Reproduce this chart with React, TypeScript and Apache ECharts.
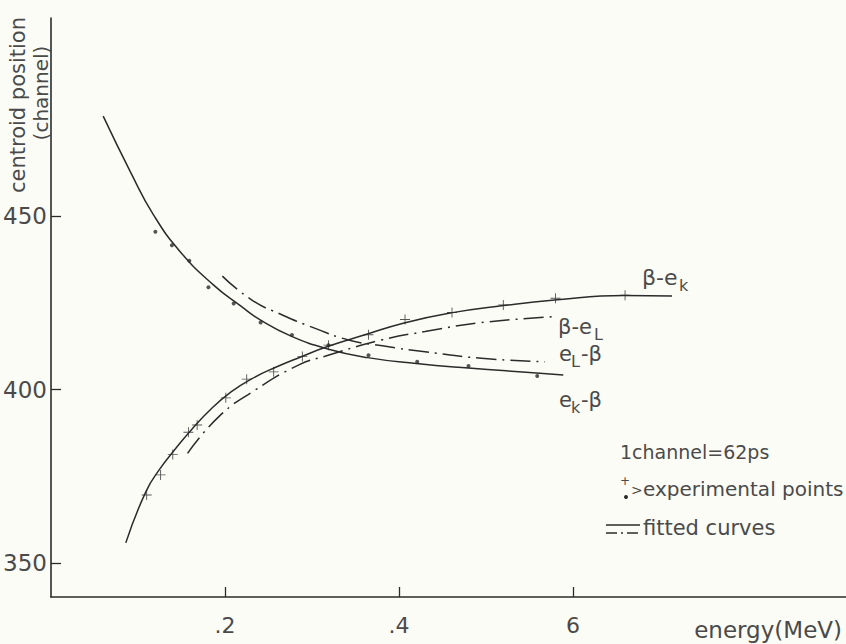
import React, { useEffect, useRef } from "react";
import * as echarts from "echarts";

// ---- data ----
const xTickValues = [0.2, 0.4, 0.6];
const xTickLabels = [".2", ".4", "6"];
const yTickValues = [350, 400, 450];

// e_k - beta : solid, decreasing fitted curve
const ekBetaCurve = [
  [0.06, 478.8], [0.092, 462.4], [0.118, 450.3], [0.149, 439.6], [0.187, 430.1],
  [0.218, 424.1], [0.241, 420.0], [0.276, 415.4], [0.318, 411.7], [0.364, 409.2],
  [0.42, 407.5], [0.48, 406.2], [0.558, 404.8], [0.589, 404.2],
];
// e_k - beta : experimental points (dots)
const ekBetaPoints = [
  [0.12, 445.5], [0.139, 441.6], [0.159, 437.1], [0.181, 429.5], [0.21, 424.8],
  [0.241, 419.3], [0.277, 415.7], [0.319, 412.8], [0.365, 409.9], [0.421, 408.0],
  [0.48, 406.8], [0.559, 403.9],
];
// beta - e_k : solid, increasing fitted curve
const betaEkCurve = [
  [0.086, 355.8], [0.109, 370.5], [0.126, 377.4], [0.144, 383.2], [0.161, 388.3],
  [0.184, 394.4], [0.207, 399.3], [0.23, 403.0], [0.259, 406.5], [0.287, 409.4],
  [0.318, 412.4], [0.36, 415.7], [0.406, 419.2], [0.46, 422.1], [0.52, 424.2],
  [0.579, 425.8], [0.659, 427.1], [0.714, 427.0],
];
// beta - e_k : experimental points (crosses)
const betaEkPoints = [
  [0.11, 369.6], [0.126, 375.4], [0.14, 381.3], [0.158, 387.7], [0.168, 389.8],
  [0.201, 397.6], [0.225, 403.0], [0.256, 405.1], [0.289, 409.5], [0.319, 412.8],
  [0.365, 415.8], [0.407, 420.2], [0.461, 422.2], [0.52, 424.4], [0.58, 426.3],
  [0.66, 427.2],
];
// beta - e_L : dash-dot fitted curve
const betaElCurve = [
  [0.157, 381.6], [0.193, 392.2], [0.235, 399.9], [0.285, 407.1], [0.315, 409.6],
  [0.38, 414.3], [0.43, 416.7], [0.495, 419.3], [0.579, 421.0],
];
// e_L - beta : dash-dot fitted curve
const elBetaCurve = [
  [0.197, 432.7], [0.231, 425.8], [0.266, 421.5], [0.303, 417.7], [0.342, 414.3],
  [0.381, 412.6], [0.43, 410.9], [0.495, 409.0], [0.568, 408.0],
];

const INK = "#2b2b2b";
const TEXT = "#4a4a4a";
const FONT = "DejaVu Sans";
const PLUS =
  "path://M-0.09,-1L0.09,-1L0.09,-0.09L1,-0.09L1,0.09L0.09,0.09L0.09,1L-0.09,1L-0.09,0.09L-1,0.09L-1,-0.09L-0.09,-0.09Z";

function txt(text: string, x: number, y: number, size: number, extra: any = {}) {
  return {
    type: "text",
    x,
    y,
    silent: true,
    style: {
      text,
      fill: TEXT,
      fontSize: size,
      fontFamily: FONT,
      align: "left",
      verticalAlign: "top",
      ...extra,
    },
  };
}

export default function App() {
  const ref = useRef<HTMLDivElement>(null);
  useEffect(() => {
    if (!ref.current) return;
    const chart = echarts.init(ref.current, null, { renderer: "svg" });
    const lineBase = { type: "line", symbol: "none", smooth: true, silent: true, z: 3 };
    const option: any = {
      animation: false,
      backgroundColor: "#fcfcf7",
      grid: { left: 51, right: 0, top: 18, bottom: 47 },
      xAxis: {
        type: "value",
        min: 0,
        max: 0.914,
        axisLine: { lineStyle: { color: INK, width: 1.6 } },
        axisTick: {
          inside: true,
          length: 10,
          customValues: xTickValues,
          lineStyle: { color: INK, width: 1.3 },
        },
        axisLabel: {
          customValues: xTickValues,
          formatter: (v: number) => {
            const i = xTickValues.findIndex((t) => Math.abs(t - v) < 1e-6);
            return i >= 0 ? xTickLabels[i] : "";
          },
          margin: 17,
          fontSize: 22,
          color: TEXT,
          fontFamily: FONT,
        },
        splitLine: { show: false },
      },
      yAxis: {
        type: "value",
        min: 340.2,
        max: 507.1,
        axisLine: { show: true, lineStyle: { color: INK, width: 1.6 } },
        axisTick: {
          show: true,
          inside: true,
          length: 10,
          customValues: yTickValues,
          lineStyle: { color: INK, width: 1.3 },
        },
        axisLabel: {
          customValues: yTickValues,
          margin: 4,
          fontSize: 23,
          color: TEXT,
          fontFamily: FONT,
        },
        splitLine: { show: false },
      },
      series: [
        { ...lineBase, name: "ek-beta", data: ekBetaCurve, lineStyle: { color: INK, width: 1.5 } },
        { ...lineBase, name: "beta-ek", data: betaEkCurve, lineStyle: { color: INK, width: 1.5 } },
        {
          ...lineBase,
          name: "beta-eL",
          data: betaElCurve,
          lineStyle: { color: INK, width: 1.5, type: [20, 6, 2, 6] },
        },
        {
          ...lineBase,
          name: "eL-beta",
          data: elBetaCurve,
          lineStyle: { color: INK, width: 1.5, type: [20, 6, 2, 6] },
        },
        {
          type: "scatter",
          name: "ek-beta points",
          data: ekBetaPoints,
          symbol: "circle",
          symbolSize: 4,
          itemStyle: { color: INK },
          silent: true,
          z: 4,
        },
        {
          type: "scatter",
          name: "beta-ek points",
          data: betaEkPoints,
          symbol: PLUS,
          symbolSize: 10,
          itemStyle: { color: INK },
          silent: true,
          z: 4,
        },
      ],
      graphic: [
        // y-axis title (two rotated lines)
        {
          type: "text",
          x: 18,
          y: 105,
          rotation: Math.PI / 2,
          silent: true,
          style: {
            text: "centroid position",
            fill: TEXT,
            fontSize: 21,
            fontFamily: FONT,
            align: "center",
            verticalAlign: "middle",
          },
        },
        {
          type: "text",
          x: 41,
          y: 93,
          rotation: Math.PI / 2,
          silent: true,
          style: {
            text: "(channel)",
            fill: TEXT,
            fontSize: 20,
            fontFamily: FONT,
            align: "center",
            verticalAlign: "middle",
          },
        },
        // x-axis title
        txt("energy(MeV)", 842, 630, 23, { align: "right", verticalAlign: "middle" }),
        // curve labels
        txt("β-e", 642, 266, 22),
        txt("k", 679, 277, 16),
        txt("β-e", 558, 316, 21),
        txt("L", 594, 326, 16),
        txt("e", 559, 343, 21),
        txt("L", 571, 353, 16),
        txt("-β", 581, 343, 21),
        txt("e", 559, 389, 21),
        txt("k", 571, 399, 16),
        txt("-β", 581, 389, 21),
        // annotations
        txt("1channel=62ps", 620, 452, 19, { verticalAlign: "middle" }),
        txt("+", 620, 481, 12, { verticalAlign: "middle" }),
        { type: "circle", silent: true, shape: { cx: 626, cy: 497, r: 2 }, style: { fill: INK } },
        txt(">", 631, 490, 14, { verticalAlign: "middle" }),
        txt("experimental points", 643, 489, 20, { verticalAlign: "middle" }),
        {
          type: "line",
          silent: true,
          shape: { x1: 606, y1: 525, x2: 640, y2: 525 },
          style: { stroke: INK, lineWidth: 1.4 },
        },
        {
          type: "line",
          silent: true,
          shape: { x1: 606, y1: 533, x2: 640, y2: 533 },
          style: { stroke: INK, lineWidth: 1.4, lineDash: [11, 4, 2, 4] },
        },
        txt("fitted curves", 643, 528, 21, { verticalAlign: "middle" }),
      ],
    };
    chart.setOption(option);
    return () => chart.dispose();
  }, []);
  return (
    <div
      ref={ref}
      style={{ position: "absolute", left: 0, top: 0, width: 846, height: 644 }}
    />
  );
}
